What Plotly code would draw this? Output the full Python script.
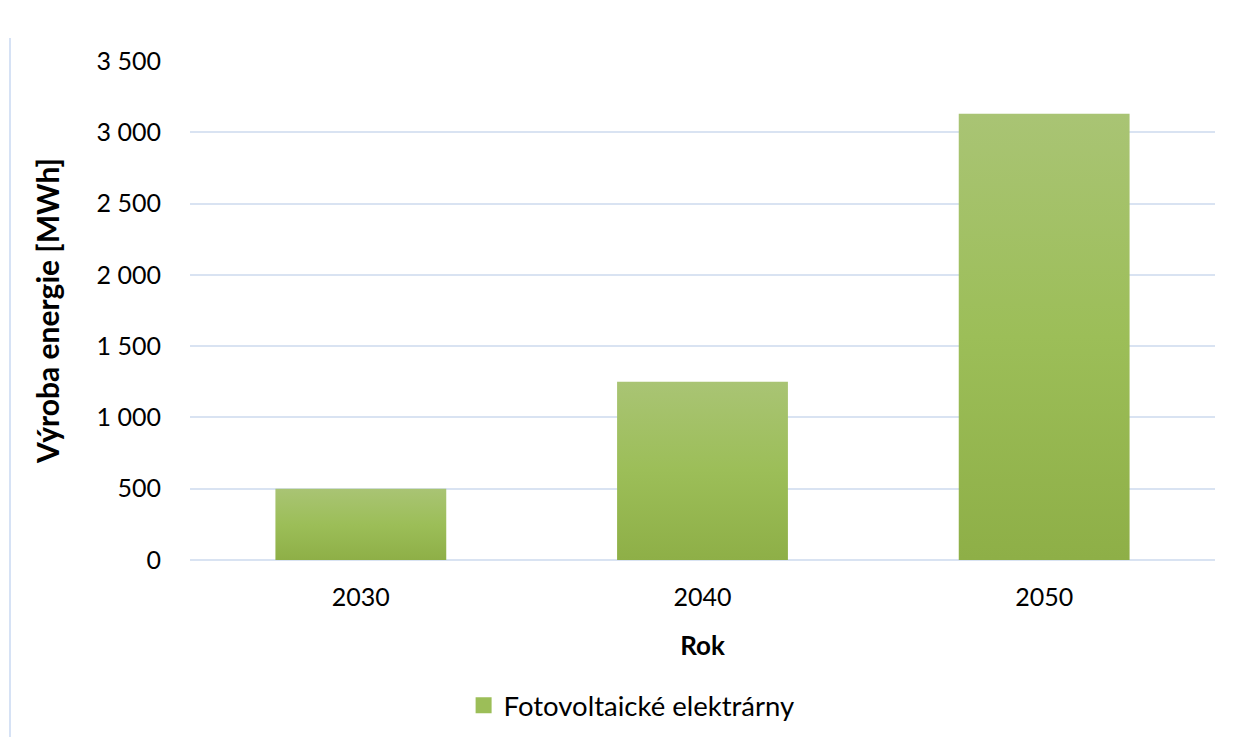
import plotly.graph_objects as go

# Data
years = ["2030", "2040", "2050"]
production_mwh = [500, 1250, 3130]
series_name = "Fotovoltaické elektrárny"

FONT = "Lato"
BAR_WIDTH = 0.5
W, H = 1233, 737
L, R, T, B = 190, 18, 61, 177

fig = go.Figure()

# Each column is a filled polygon so it can carry a vertical gradient
for i, (yr, val) in enumerate(zip(years, production_mwh)):
    x0, x1 = i - BAR_WIDTH / 2, i + BAR_WIDTH / 2
    fig.add_trace(go.Scatter(
        x=[x0, x1, x1, x0, x0],
        y=[0, 0, val, val, 0],
        mode="lines",
        line=dict(width=0, color="rgba(0,0,0,0)"),
        fill="toself",
        fillgradient=dict(
            type="vertical",
            start=0,
            stop=val,
            colorscale=[[0, "#8eaf47"], [0.5, "#9cbe58"], [1, "#a9c474"]],
        ),
        name=series_name,
        legendgroup="pv",
        showlegend=False,
        hovertemplate=f"{yr}: %{{customdata}} MWh<extra></extra>",
        customdata=[val] * 5,
    ))

# Legend entry: a square swatch in the series colour
fig.add_trace(go.Scatter(
    x=[None], y=[None],
    mode="markers",
    marker=dict(symbol="square", size=16, color="#9cbe58"),
    name=series_name,
    legendgroup="pv",
    showlegend=True,
))

grid_col = "#d9e3f2"

fig.update_layout(
    width=W, height=H,
    margin=dict(l=L, r=R, t=T, b=B),
    paper_bgcolor="white",
    plot_bgcolor="white",
    font=dict(family=FONT, size=25, color="#000000"),
    separators=", ",
    showlegend=True,
    legend=dict(
        orientation="h",
        xref="container", yref="container",
        x=0.376, xanchor="left",
        y=0.043, yanchor="middle",
        font=dict(family=FONT, size=27.5, color="#000000"),
    ),
    xaxis=dict(
        range=[-0.5, 2.5],
        tickmode="array",
        tickvals=list(range(len(years))),
        ticktext=years,
        showgrid=False,
        zeroline=False,
        showline=False,
        ticks="",
        ticklabelstandoff=20,
        title=dict(text="<b>Rok</b>", font=dict(family=FONT, size=26), standoff=26),
    ),
    yaxis=dict(
        range=[0, 3500],
        tick0=0, dtick=500,
        tickformat=",d",
        separatethousands=True,
        showgrid=True,
        gridcolor=grid_col,
        gridwidth=1.5,
        zeroline=True,
        zerolinecolor=grid_col,
        zerolinewidth=2,
        showline=False,
        ticks="",
        ticklabelstandoff=28,
        title=dict(text="<b>Výroba energie [MWh]</b>", font=dict(family=FONT, size=30), standoff=28),
    ),
)

# Thin frame line on the left edge of the chart area
px_to_paper_x = lambda px: (px - L) / (W - L - R)
px_to_paper_y = lambda py: (H - B - py) / (H - T - B)
fig.add_shape(
    type="line", xref="paper", yref="paper",
    x0=px_to_paper_x(10), x1=px_to_paper_x(10),
    y0=px_to_paper_y(38), y1=px_to_paper_y(H),
    line=dict(color="#d6e2f5", width=2),
    layer="below",
)

fig.write_html("out.html")
